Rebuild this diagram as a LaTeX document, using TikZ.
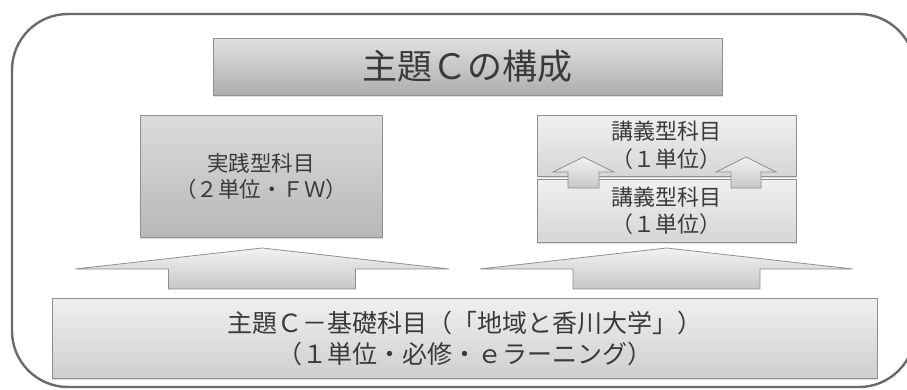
\documentclass[tikz,border=0pt]{standalone}
\usepackage{fontspec}
\setmainfont{Noto Sans CJK JP}
\usetikzlibrary{shadows}
\definecolor{framegray}{HTML}{6A6A6A}
\definecolor{linegray}{HTML}{8E8F91}
\definecolor{textgray}{HTML}{3A3A3A}
\begin{document}
\begin{tikzpicture}[x=1pt,y=-1pt,
    box/.style={draw=linegray, line width=0.9pt, text=textgray, align=center,
      inner sep=0pt, drop shadow={shadow xshift=1pt, shadow yshift=-1.5pt, opacity=0.25}},
    titlebox/.style={box, top color=black!12, bottom color=black!32},
    fwbox/.style={box, top color=black!14, bottom color=black!28},
    lecbox/.style={box, top color=black!6, bottom color=black!16},
    basebox/.style={box, top color=black!6, bottom color=black!19},
    blockarrow/.style={draw=linegray, line width=0.8pt, top color=black!5, bottom color=black!22}]
  \useasboundingbox (0,0) rectangle (907,389);
  \draw[framegray, line width=2.4pt, rounded corners=56pt] (12,14) rectangle (915,387);
  \node[titlebox, minimum width=509, minimum height=57,
    font=\fontsize{35}{40}\selectfont] (title) at (467.5,66.5) {主題Ｃの構成};
  \node[fwbox, minimum width=242, minimum height=122,
    font=\fontsize{21.5}{26}\selectfont] (fw) at (261,176) {実践型科目\\（２単位・ＦＷ）};
  \node[lecbox, minimum width=259, minimum height=61,
    font=\fontsize{22}{28}\selectfont] (lec2) at (666.5,145.5) {講義型科目\\（１単位）};
  \node[lecbox, minimum width=259, minimum height=63,
    font=\fontsize{22}{27}\selectfont] (lec1) at (666.5,210.5) {講義型科目\\（１単位）};
  \node[basebox, minimum width=825, minimum height=80,
    font=\fontsize{25}{31}\selectfont] (base) at (464.5,338)
    {主題Ｃ－基礎科目（「地域と香川大学」）\\（１単位・必修・ｅラーニング）};
  % arrows up from the base course
  \draw[blockarrow] (75,269) -- (262,248) -- (449,269) -- (355.5,269)
    -- (355.5,289) -- (168.5,289) -- (168.5,269) -- cycle;
  \draw[blockarrow] (480,269) -- (666.5,248) -- (853,269) -- (760,269)
    -- (760,289) -- (573,289) -- (573,269) -- cycle;
  % arrows between the two lecture courses
  \draw[blockarrow] (553,172) -- (583.5,157) -- (614,172) -- (599,172)
    -- (599,188) -- (568,188) -- (568,172) -- cycle;
  \draw[blockarrow] (716,172) -- (746,157) -- (776,172) -- (761,172)
    -- (761,188) -- (731,188) -- (731,172) -- cycle;
\end{tikzpicture}
\end{document}
